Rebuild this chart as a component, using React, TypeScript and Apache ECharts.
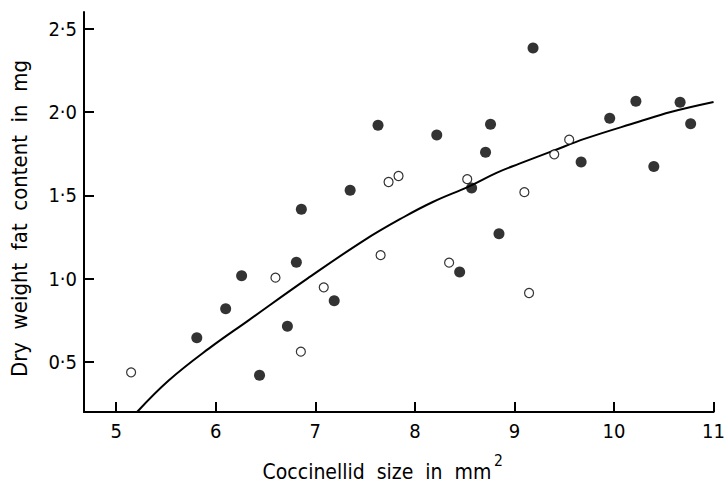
import React, { useEffect, useRef } from "react";
import * as echarts from "echarts";

const xTicks = [5, 6, 7, 8, 9, 10, 11];
const yTicks = [0.5, 1.0, 1.5, 2.0, 2.5];

const filledX = [5.81, 6.10, 6.26, 6.44, 6.72, 6.81, 6.86, 7.19, 7.35, 7.63, 8.22, 8.45, 8.57, 8.71, 8.76, 8.845, 9.187, 9.67, 9.957, 10.22, 10.40, 10.664, 10.77];
const filledY = [0.646, 0.82, 1.018, 0.42, 0.714, 1.098, 1.417, 0.868, 1.53, 1.92, 1.862, 1.04, 1.544, 1.758, 1.926, 1.27, 2.384, 1.70, 1.962, 2.064, 1.673, 2.058, 1.93];

const openX = [5.15, 6.60, 6.855, 7.085, 7.656, 7.736, 7.836, 8.344, 8.526, 9.10, 9.147, 9.40, 9.55];
const openY = [0.438, 1.006, 0.562, 0.948, 1.141, 1.58, 1.616, 1.096, 1.597, 1.519, 0.914, 1.746, 1.834];

const curveX = [5.21, 5.53, 5.93, 6.33, 6.92, 7.49, 7.89, 8.18, 8.55, 8.82, 9.05, 9.38, 9.71, 10.24, 10.57, 11.0];
const curveY = [0.20, 0.39, 0.58, 0.75, 1.00, 1.23, 1.37, 1.46, 1.555, 1.635, 1.69, 1.765, 1.84, 1.94, 2.00, 2.06];

const xTitle = "Coccinellid  size  in  mm";
const xTitleSup = "2";
const yTitle = "Dry  weight  fat  content  in  mg";

const FONT = "'DejaVu Sans Condensed', 'Liberation Sans Narrow', 'DejaVu Sans', sans-serif";

export default function App() {
  const ref = useRef<HTMLDivElement>(null);
  useEffect(() => {
    if (!ref.current) return;
    const chart = echarts.init(ref.current, null, { renderer: "svg" });
    const zip = (xs: number[], ys: number[]) => xs.map((x, i) => [x, ys[i]]);
    chart.setOption({
      animation: false,
      backgroundColor: "#ffffff",
      textStyle: { fontFamily: FONT, color: "#000" },
      grid: { left: 84, right: 9, top: 12, bottom: 72 },
      graphic: [
        {
          type: "text",
          x: 377,
          y: 472,
          style: {
            text: xTitle,
            fontFamily: FONT,
            fontSize: 21,
            fill: "#000",
            align: "center",
            verticalAlign: "middle",
          },
        },
        {
          type: "text",
          x: 494,
          y: 461,
          style: {
            text: xTitleSup,
            fontFamily: FONT,
            fontSize: 15.5,
            fill: "#000",
            align: "left",
            verticalAlign: "middle",
          },
        },
        {
          type: "text",
          x: 19.5,
          y: 218.5,
          rotation: Math.PI / 2,
          style: {
            text: yTitle,
            fontFamily: FONT,
            fontSize: 22,
            fill: "#000",
            align: "center",
            verticalAlign: "middle",
          },
        },
      ],
      xAxis: {
        type: "value",
        min: 4.677,
        max: 11,
        axisLine: { show: true, lineStyle: { color: "#000", width: 2 } },
        axisTick: { show: true, inside: true, length: 10, lineStyle: { color: "#000", width: 2 }, customValues: xTicks },
        axisLabel: {
          show: true,
          customValues: xTicks,
          margin: 9,
          fontFamily: FONT,
          fontSize: 20,
          color: "#000",
          formatter: (v: number) => String(Math.round(v)),
        },
        splitLine: { show: false },
      },
      yAxis: {
        type: "value",
        min: 0.2,
        max: 2.6,
        axisLine: { show: true, lineStyle: { color: "#000", width: 2 } },
        axisTick: { show: true, inside: true, length: 10, lineStyle: { color: "#000", width: 2 }, customValues: yTicks },
        axisLabel: {
          show: true,
          customValues: yTicks,
          margin: 7,
          fontFamily: FONT,
          fontSize: 20,
          color: "#000",
          formatter: (v: number) => v.toFixed(1).replace(".", "·"),
        },
        splitLine: { show: false },
      },
      series: [
        {
          type: "line",
          data: zip(curveX, curveY),
          smooth: 0.4,
          showSymbol: false,
          symbol: "none",
          lineStyle: { color: "#000", width: 2 },
          z: 1,
        },
        {
          type: "scatter",
          data: zip(filledX, filledY),
          symbol: "circle",
          symbolSize: 11,
          itemStyle: { color: "#000" },
          z: 3,
        },
        {
          type: "scatter",
          data: zip(openX, openY),
          symbol: "circle",
          symbolSize: 9,
          itemStyle: { color: "#fff", borderColor: "#000", borderWidth: 1.2 },
          z: 4,
        },
      ],
    });
    return () => chart.dispose();
  }, []);
  return (
    <div
      ref={ref}
      style={{ position: "fixed", left: 0, top: 0, width: 728, height: 484, background: "#fff" }}
    />
  );
}
